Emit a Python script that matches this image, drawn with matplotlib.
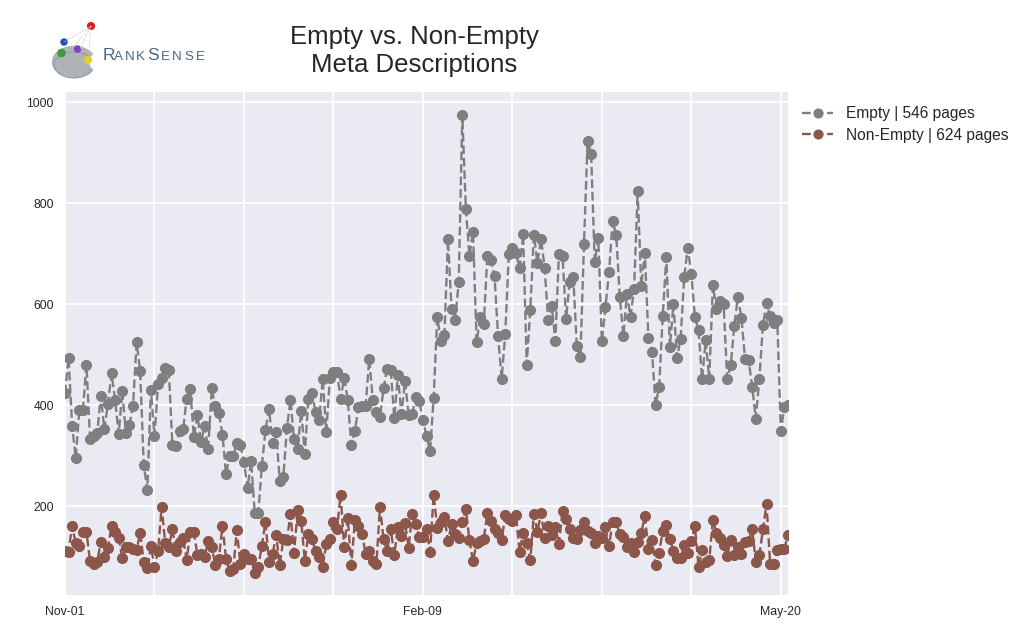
import matplotlib
matplotlib.use("Agg")
import matplotlib.pyplot as plt
from matplotlib.patches import Circle, Ellipse, Wedge

plt.rcParams['font.family'] = ['Liberation Sans', 'DejaVu Sans']

empty = [423,494,359,295,390,391,480,332,339,345,418,352,403,463,410,342,428,345,361,398,
         524,467,282,232,430,339,441,453,473,469,322,319,349,352,413,431,337,380,327,359,
         313,433,398,385,341,263,299,299,325,321,288,235,289,187,186,280,350,393,324,346,
         250,258,354,411,332,313,389,304,413,423,387,370,452,347,453,465,465,413,454,411,
         321,349,397,399,398,492,410,387,376,433,472,470,375,459,382,448,381,382,416,408,
         370,339,309,415,574,527,539,728,590,569,643,974,789,695,743,524,574,561,695,688,
         655,537,452,541,700,712,702,671,739,480,589,737,682,729,672,568,596,527,700,696,
         571,644,654,517,495,720,923,898,683,731,526,595,663,765,737,615,537,621,575,630,
         824,636,702,533,506,401,436,576,693,515,601,494,531,654,712,659,574,549,451,528,
         452,637,591,606,601,452,479,557,615,572,492,489,436,373,452,559,602,576,563,568,
         349,397,400]
non_empty = [111,110,161,126,121,148,148,91,85,90,129,100,117,161,149,137,97,119,119,116,
             113,147,90,77,121,80,111,199,127,119,154,112,129,136,94,148,149,103,106,100,
             131,119,84,96,161,95,71,75,152,86,106,96,96,67,80,121,169,90,105,143,
             83,134,133,184,108,192,171,92,145,134,112,100,80,125,134,168,154,223,119,177,
             83,172,161,145,105,112,91,85,199,134,112,155,103,159,141,167,118,185,164,138,
             138,154,110,223,157,169,178,131,164,144,136,169,194,132,91,127,131,135,187,171,
             154,146,132,182,174,171,182,110,147,127,93,185,149,187,136,160,143,158,125,191,
             174,154,137,134,152,169,151,146,126,141,136,159,121,169,169,144,138,119,126,110,
             129,147,180,116,133,84,108,151,162,134,112,98,98,123,108,131,160,80,113,90,
             93,173,147,137,123,102,133,104,119,106,129,131,154,90,103,154,205,86,85,113,
             116,116,143]
tick_pos = [0, 100, 200]
tick_labels = ["Nov-01", "Feb-09", "May-20"]
minor_pos = [25, 50, 75, 125, 150, 175]
y_ticks = [200, 400, 600, 800, 1000]
series_labels = ["Empty | 546 pages", "Non-Empty | 624 pages"]


def draw_logo(fig):
    # logo is only a rough sketch, coordinates are in image pixels
    la = fig.add_axes([0, 0, 1, 1], zorder=5)
    la.set_xlim(0, 1024)
    la.set_ylim(627, 0)
    la.axis("off")
    for sx, sy in [(64, 42), (72, 49), (80, 49), (89, 49)]:
        la.plot([91, sx], [26, sy], color="#c8ccd0", lw=0.6, ls=(0, (2, 1.5)))
    la.add_patch(Ellipse((74, 62), 43, 31, color="#aeb3b8"))
    la.add_patch(Ellipse((74, 65), 40, 26, color="#8f969c", fill=False, lw=0.6))
    la.add_patch(Wedge((99, 62), 9, 110, 250, color="white"))
    la.add_patch(Circle((91, 26), 3.4, color="#e01a1f"))
    la.add_patch(Circle((64, 42), 3.0, color="#2450b8"))
    la.add_patch(Circle((61.5, 53), 3.6, color="#3f9a3a"))
    la.add_patch(Circle((77.5, 49), 3.0, color="#7a45c8"))
    la.add_patch(Circle((88, 60), 3.4, color="#e4cf2a"))
    c = "#47678a"
    letters = [(103, "R", 12.5), (114, "A", 9.6), (125, "N", 9.6), (136, "K", 9.6),
               (147, "S", 12.5), (161, "E", 9.6), (172, "N", 9.6), (184, "S", 9.6), (196, "E", 9.6)]
    for x, s, fs in letters:
        la.text(x, 60.5, s, color=c, fontsize=fs, va="baseline", ha="left")


def main():
    fig = plt.figure(figsize=(10.24, 6.27), dpi=100, facecolor="white")
    ax = fig.add_axes([65/1024, (627-595)/627, 723/1024, 503/627])
    ax.set_facecolor("#eaeaf2")
    days = list(range(len(empty)))
    ax.plot(days, empty, "--o", color="#7f7f7f", lw=1.7, ms=7, label=series_labels[0])
    ax.plot(days, non_empty, "--o", color="#8c564b", lw=1.7, ms=7, label=series_labels[1])

    ax.set_xlim(0, 202)
    ax.set_ylim(24, 1020)
    ax.set_xticks(tick_pos)
    ax.set_xticklabels(tick_labels)
    ax.set_xticks(minor_pos, minor=True)
    ax.set_yticks(y_ticks)
    ax.grid(True, which="both", color="white", lw=1.3)
    ax.set_axisbelow(True)
    ax.tick_params(which="both", length=0, labelsize=8.8, colors="#262626", pad=8)
    ax.tick_params(axis="y", pad=8)
    for s in ax.spines.values():
        s.set_visible(False)

    ax.legend(loc="upper left", bbox_to_anchor=(1.0, 1.0), frameon=False, fontsize=11.2,
              labelspacing=0.42, handlelength=2.0, handletextpad=0.85, labelcolor="#262626",
              borderaxespad=0.5, markerscale=0.9)

    fig.text(414/1024, 1-51/627, "Empty vs. Non-Empty\nMeta Descriptions", ha="center", va="center",
             fontsize=18.5, color="#262626", linespacing=1.22)
    draw_logo(fig)
    fig.savefig("out.png", dpi=100)


if __name__ == "__main__":
    main()
